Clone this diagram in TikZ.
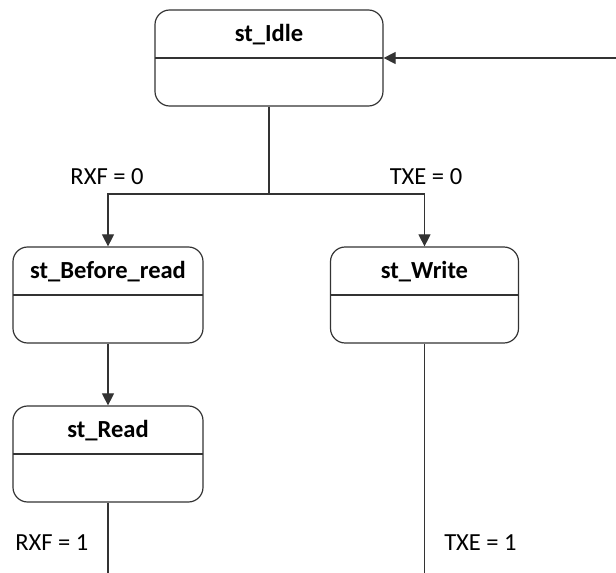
\documentclass[tikz,border=0pt]{standalone}
\usepackage{fontspec}
\setmainfont{Carlito}
\usetikzlibrary{arrows.meta,calc}

\tikzset{
    state/.style={draw=black!80, line width=0.9pt, rounded corners=11pt,
        minimum width=#1, minimum height=72pt, inner sep=0pt,
        path picture={\draw[black!80, line width=0.9pt]
            (path picture bounding box.west) -- (path picture bounding box.east);}},
    title/.style={font=\fontsize{18.4}{22}\selectfont\bfseries, inner sep=0pt, anchor=base},
    cond/.style={font=\fontsize{18.4}{22}\selectfont, inner sep=0pt},
    link/.style={draw=black!80, line width=0.8pt},
    arr/.style={link, -{Triangle[length=9pt,width=9pt]}}
}

\begin{document}
\begin{tikzpicture}[x=0.75pt, y=-0.75pt]
    \useasboundingbox (0,0) rectangle (616,573);

    \node[state=171pt] (idle)   at (269,58)    {};
    \node[state=142.5pt] (before) at (108,295) {};
    \node[state=141pt] (write)  at (424.5,295) {};
    \node[state=142.5pt] (read)   at (108,454) {};

    \node[title] (idle-t)   at ($(idle.north)+(0,32)$)   {st\_Idle};
    \node[title] (before-t) at ($(before.north)+(0,32)$) {st\_Before\_read};
    \node[title] (write-t)  at ($(write.north)+(0,32)$)  {st\_Write};
    \node[title] (read-t)   at ($(read.north)+(0,32)$)   {st\_Read};

    \coordinate (entry) at (616,58);
    \coordinate (fork)  at (269,194);
    \coordinate (rdout) at (108,573);
    \coordinate (wrout) at (424.5,573);

    \draw[arr] (entry) -- (idle.east);
    \draw[link] (idle.south) -- (fork);
    \draw[arr] (fork) -| (before.north);
    \draw[arr] (fork) -| (write.north);
    \draw[arr] (before.south) -- (read.north);
    \draw[link] (read.south) -- (rdout);
    \draw[link] (write.south) -- (wrout);

    \node[cond, anchor=base] (rxf0) at (107,185) {RXF = 0};
    \node[cond, anchor=base] (txe0) at (426,185) {TXE = 0};
    \node[cond, anchor=base west] (rxf1) at (15,550) {RXF = 1};
    \node[cond, anchor=base west] (txe1) at (444,550) {TXE = 1};
\end{tikzpicture}
\end{document}
